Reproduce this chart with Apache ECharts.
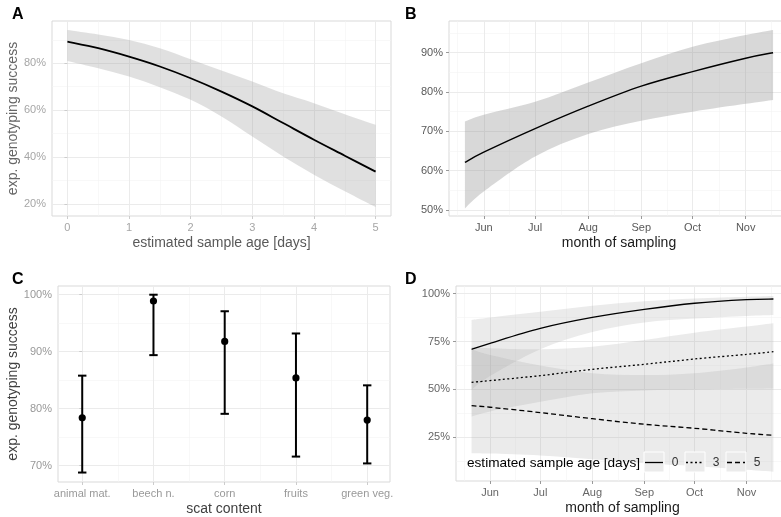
<!DOCTYPE html>
<html>
<head>
<meta charset="utf-8">
<script src="https://cdn.jsdelivr.net/npm/echarts@6/dist/echarts.min.js"></script>
<style>html,body{margin:0;padding:0;background:#fff}#c{width:781px;height:517px}</style>
</head>
<body>
<div id="c"></div>
<script>
// ---------- Panel A: estimated sample age ----------
const ageX = [0, 0.5, 1, 1.5, 2, 2.5, 3, 3.5, 4, 4.5, 5];
const ageFit = [89.2, 86.4, 82.8, 78.6, 73.6, 67.9, 61.6, 54.5, 47.4, 40.6, 33.8];
const ageUpper = [94.2, 92.3, 89.9, 86.4, 81.7, 76.9, 72.2, 67.2, 63.0, 58.3, 53.8];
const ageLower = [81.0, 77.9, 74.3, 69.8, 64.4, 57.3, 48.8, 40.3, 32.5, 25.4, 18.7];
const ageTicksX = [0, 1, 2, 3, 4, 5];
const ageMinorX = [0.5, 1.5, 2.5, 3.5, 4.5];
const ageTicksY = [20, 40, 60, 80];
const ageMinorY = [30, 50, 70, 90];

// ---------- Panel B: month of sampling (day of year) ----------
const dayX = [141, 152, 182, 213, 244, 274, 305, 321];
const monFit = [62.1, 64.7, 70.7, 76.4, 81.5, 85.2, 88.6, 90.0];
const monUpper = [72.5, 74.2, 77.5, 82.4, 87.3, 91.5, 94.5, 95.8];
const monLower = [50.4, 54.7, 63.6, 69.3, 72.7, 75.0, 77.0, 78.0];
const monthTicks = [152, 182, 213, 244, 274, 305];
const monthLabels = ['Jun', 'Jul', 'Aug', 'Sep', 'Oct', 'Nov'];
const monthMinor = [136.5, 167, 197.5, 228.5, 259, 289.5, 320];
const monTicksY = [50, 60, 70, 80, 90];
const monMinorY = [55, 65, 75, 85, 95];

// ---------- Panel C: scat content ----------
const scatCats = ['animal mat.', 'beech n.', 'corn', 'fruits', 'green veg.'];
const scatMean = [78.4, 98.9, 91.8, 85.4, 78.0];
const scatLow = [68.8, 89.4, 79.1, 71.6, 70.4];
const scatHigh = [85.8, 100.0, 97.1, 93.2, 84.1];
const scatTicksY = [70, 80, 90, 100];
const scatMinorY = [75, 85, 95];
const scatMinorX = [0.5, 1.5, 2.5, 3.5];

// ---------- Panel D: month x age interaction ----------
const ageLevels = ['0', '3', '5'];
const dFit0 = [70.9, 74.1, 81.9, 87.6, 91.8, 95.0, 96.9, 97.2];
const dUp0 = [86.3, 87.6, 90.6, 93.7, 96.0, 97.5, 98.4, 98.8];
const dLo0 = [49.8, 57.0, 71.0, 80.0, 85.0, 87.0, 88.4, 88.9];
const dFit3 = [53.7, 54.6, 57.2, 60.5, 63.1, 65.9, 68.3, 69.7];
const dUp3 = [72.3, 71.5, 71.0, 72.3, 75.8, 79.6, 82.8, 84.5];
const dLo3 = [35.8, 38.5, 43.5, 48.0, 49.5, 50.0, 50.3, 50.5];
const dFit5 = [41.5, 40.7, 37.9, 34.7, 31.8, 29.7, 27.1, 26.0];
const dUp5 = [71.0, 68.0, 62.5, 58.5, 57.5, 58.5, 61.5, 63.5];
const dLo5 = [16.7, 16.5, 15.5, 13.5, 11.5, 10.0, 8.0, 7.0];
const dTicksY = [25, 50, 75, 100];
const dMinorY = [12.5, 37.5, 62.5, 87.5];

// ---------- helpers ----------
const FONT = 'Liberation Sans, Arial, sans-serif';
const zip = (xs, ys) => xs.map((x, i) => [x, ys[i]]);
const pct = v => v + '%';

function gridLinesSeries(idx, majX, minX, majY, minY, dataX, dataY) {
  const maj = { color: '#ebebeb', width: 1, type: 'solid' };
  const mn = { color: '#f4f4f4', width: 0.6, type: 'solid' };
  const d = [];
  minX.forEach(v => d.push({ xAxis: v, lineStyle: mn }));
  minY.forEach(v => d.push({ yAxis: v, lineStyle: mn }));
  majX.forEach(v => d.push({ xAxis: v, lineStyle: maj }));
  majY.forEach(v => d.push({ yAxis: v, lineStyle: maj }));
  return {
    type: 'line', xAxisIndex: idx, yAxisIndex: idx, z: 0,
    data: zip(dataX, dataY), symbol: 'none', lineStyle: { opacity: 0 },
    silent: true, animation: false,
    markLine: { z: 0, silent: true, symbol: 'none', label: { show: false }, animation: false, data: d }
  };
}
// cubic (Catmull-Rom) path through pixel points
function curveCmds(pts, start) {
  let s = (start ? 'M' : 'L') + pts[0][0] + ',' + pts[0][1];
  for (let i = 0; i < pts.length - 1; i++) {
    const p0 = pts[i - 1] || pts[i], p1 = pts[i], p2 = pts[i + 1], p3 = pts[i + 2] || pts[i + 1];
    const c1 = [p1[0] + (p2[0] - p0[0]) / 6, p1[1] + (p2[1] - p0[1]) / 6];
    const c2 = [p2[0] - (p3[0] - p1[0]) / 6, p2[1] - (p3[1] - p1[1]) / 6];
    s += 'C' + c1[0] + ',' + c1[1] + ',' + c2[0] + ',' + c2[1] + ',' + p2[0] + ',' + p2[1];
  }
  return s;
}
function ribbon(idx, xs, lo, hi, color) {
  return {
    type: 'custom', xAxisIndex: idx, yAxisIndex: idx, z: 2, silent: true,
    data: xs.map((x, i) => [x, lo[i], hi[i]]),
    encode: { x: 0, y: [1, 2] },
    renderItem: function (params, api) {
      if (params.dataIndexInside !== 0) return null;
      const n = params.dataInsideLength;
      const up = [], dn = [];
      for (let i = 0; i < n; i++) {
        up.push(api.coord([api.value(0, i), api.value(2, i)]));
        dn.push(api.coord([api.value(0, i), api.value(1, i)]));
      }
      dn.reverse();
      const d = curveCmds(up, true) + curveCmds(dn, false) + 'Z';
      return { type: 'path', shape: { pathData: d }, style: { fill: color, stroke: null } };
    }
  };
}
function fitLine(idx, xs, ys, width, dash) {
  return {
    type: 'custom', xAxisIndex: idx, yAxisIndex: idx, z: 3, silent: true,
    data: zip(xs, ys), encode: { x: 0, y: 1 },
    renderItem: function (params, api) {
      if (params.dataIndexInside !== 0) return null;
      const pts = [];
      for (let i = 0; i < params.dataInsideLength; i++) pts.push(api.coord([api.value(0, i), api.value(1, i)]));
      return { type: 'path', shape: { pathData: curveCmds(pts, true) },
        style: { fill: null, stroke: '#000', lineWidth: width, lineDash: dash || null, lineCap: 'butt', lineJoin: 'round' } };
    }
  };
}
function valAxis(gi, min, max, ticks, fmt, labColor, tickColor, extra) {
  return Object.assign({
    type: 'value', gridIndex: gi, min: min, max: max,
    splitLine: { show: false }, axisLine: { show: false },
    axisTick: { show: true, customValues: ticks, length: 3, lineStyle: { color: tickColor } },
    axisLabel: { customValues: ticks, formatter: fmt, color: labColor, fontSize: 11, fontFamily: FONT, margin: 6 }
  }, extra || {});
}
const nameStyle = (c) => ({ color: c, fontSize: 14, fontFamily: FONT });

const borderGrid = (l, t, w, h) => ({ left: l, top: t, width: w, height: h, show: true,
  borderColor: '#d9d9d9', borderWidth: 1, backgroundColor: 'transparent',
  containLabel: false, outerBoundsMode: 'none' });

const option = {
  animation: false,
  textStyle: { fontFamily: FONT },
  grid: [
    borderGrid(52, 21, 339, 195),
    borderGrid(449, 21, 340, 195),
    borderGrid(58, 286, 332, 196),
    borderGrid(456, 286, 333, 195)
  ],
  xAxis: [
    valAxis(0, -0.25, 5.25, ageTicksX, v => String(v), '#a6a6a6', '#cccccc',
      { name: 'estimated sample age [days]', nameLocation: 'middle', nameGap: 20, nameTextStyle: nameStyle('#595959') }),
    valAxis(1, 131.7, 330.3, monthTicks, v => monthLabels[monthTicks.indexOf(v)], '#595959', '#999999',
      { name: 'month of sampling', nameLocation: 'middle', nameGap: 20, nameTextStyle: nameStyle('#1a1a1a') }),
    valAxis(2, -0.34, 4.32, [0, 1, 2, 3, 4], v => scatCats[Math.round(v)], '#999999', '#cccccc',
      { name: 'scat content', nameLocation: 'middle', nameGap: 20, nameTextStyle: nameStyle('#404040') }),
    valAxis(3, 131.7, 330.3, monthTicks, v => monthLabels[monthTicks.indexOf(v)], '#666666', '#999999',
      { name: 'month of sampling', nameLocation: 'middle', nameGap: 20, nameTextStyle: nameStyle('#1a1a1a') })
  ],
  yAxis: [
    valAxis(0, 14.9, 98.0, ageTicksY, pct, '#a6a6a6', '#cccccc',
      { name: 'exp. genotyping success', nameLocation: 'middle', nameGap: 32, nameTextStyle: nameStyle('#666666') }),
    valAxis(1, 48.47, 98.06, monTicksY, pct, '#595959', '#999999'),
    valAxis(2, 67.14, 101.53, scatTicksY, pct, '#999999', '#cccccc',
      { name: 'exp. genotyping success', nameLocation: 'middle', nameGap: 38, nameTextStyle: nameStyle('#404040') }),
    valAxis(3, 2.18, 104.0, dTicksY, pct, '#666666', '#999999')
  ],
  series: [
    gridLinesSeries(0, ageTicksX, ageMinorX, ageTicksY, ageMinorY, ageX, ageFit),
    ribbon(0, ageX, ageLower, ageUpper, 'rgba(153,153,153,0.30)'),
    fitLine(0, ageX, ageFit, 1.8),

    gridLinesSeries(1, monthTicks, monthMinor, monTicksY, monMinorY, dayX, monFit),
    ribbon(1, dayX, monLower, monUpper, 'rgba(153,153,153,0.38)'),
    fitLine(1, dayX, monFit, 1.4),

    gridLinesSeries(2, [0, 1, 2, 3, 4], scatMinorX, scatTicksY, scatMinorY, [0, 1, 2, 3, 4], scatMean),
    {
      type: 'custom', xAxisIndex: 2, yAxisIndex: 2, z: 3, silent: true,
      data: scatCats.map((c, i) => [i, scatLow[i], scatHigh[i], scatMean[i]]),
      encode: { x: 0, y: [1, 2, 3] },
      renderItem: function (params, api) {
        const x = api.value(0);
        const pLo = api.coord([x, api.value(1)]);
        const pHi = api.coord([x, api.value(2)]);
        const pM = api.coord([x, api.value(3)]);
        const cw = 4.2;
        const st = { stroke: '#000', lineWidth: 2 };
        return { type: 'group', children: [
          { type: 'line', shape: { x1: pLo[0], y1: pLo[1], x2: pHi[0], y2: pHi[1] }, style: st },
          { type: 'line', shape: { x1: pLo[0] - cw, y1: pLo[1], x2: pLo[0] + cw, y2: pLo[1] }, style: st },
          { type: 'line', shape: { x1: pHi[0] - cw, y1: pHi[1], x2: pHi[0] + cw, y2: pHi[1] }, style: st },
          { type: 'circle', shape: { cx: pM[0], cy: pM[1], r: 3.6 }, style: { fill: '#000' } }
        ] };
      }
    },

    gridLinesSeries(3, monthTicks, monthMinor, dTicksY, dMinorY, dayX, dFit0),
    ribbon(3, dayX, dLo0, dUp0, 'rgba(153,153,153,0.2)'),
    ribbon(3, dayX, dLo3, dUp3, 'rgba(153,153,153,0.2)'),
    ribbon(3, dayX, dLo5, dUp5, 'rgba(153,153,153,0.2)'),
    fitLine(3, dayX, dFit0, 1.3),
    fitLine(3, dayX, dFit3, 1.3, [2, 2.5]),
    fitLine(3, dayX, dFit5, 1.3, [5, 3])
  ],
  graphic: [
    { type: 'text', left: 12, top: 7, style: { text: 'A', font: 'bold 16px ' + FONT, fill: '#000' } },
    { type: 'text', left: 405, top: 7, style: { text: 'B', font: 'bold 16px ' + FONT, fill: '#000' } },
    { type: 'text', left: 12, top: 272, style: { text: 'C', font: 'bold 16px ' + FONT, fill: '#000' } },
    { type: 'text', left: 405, top: 272, style: { text: 'D', font: 'bold 16px ' + FONT, fill: '#000' } },
    // legend of panel D
    { type: 'text', z: 10, style: { x: 467, y: 463, text: 'estimated sample age [days]', font: '13.6px ' + FONT, fill: '#000', verticalAlign: 'middle' } },
    ...ageLevels.flatMap((lab, i) => {
      const bx = [644, 685, 726][i];
      const dash = [null, [2, 2.5], [5, 3]][i];
      return [
        { type: 'rect', z: 10, shape: { x: bx, y: 452, width: 20, height: 20 }, style: { fill: '#ebebeb', stroke: '#ffffff', lineWidth: 1 } },
        { type: 'line', z: 11, shape: { x1: bx + 1, y1: 462.5, x2: bx + 19, y2: 462.5 }, style: { stroke: '#000', lineWidth: 1.3, lineDash: dash } },
        { type: 'text', z: 11, style: { x: bx + 31, y: 463, text: lab, font: '12px ' + FONT, fill: '#333', align: 'center', verticalAlign: 'middle' } }
      ];
    })
  ]
};

const chart = echarts.init(document.getElementById('c'), null, { renderer: 'canvas' });
chart.setOption(option);
</script>
</body>
</html>
